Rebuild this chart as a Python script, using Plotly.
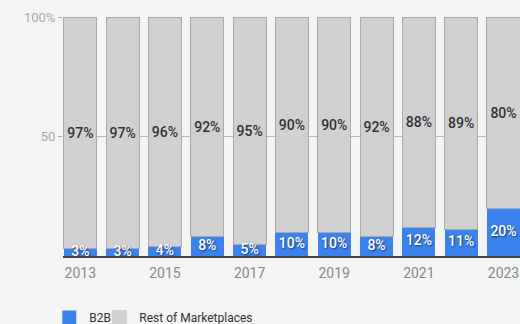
import plotly.graph_objects as go

years = [2013, 2014, 2015, 2016, 2017, 2018, 2019, 2020, 2021, 2022, 2023]
b2b = [3, 3, 4, 8, 5, 10, 10, 8, 12, 11, 20]
rest = [97, 97, 96, 92, 95, 90, 90, 92, 88, 89, 80]
x_ticks = [2013, 2015, 2017, 2019, 2021, 2023]
y_ticks = [50, 100]
y_ticktext = ["50", "100%"]

BG = "#f2f5f4"
FONT = "Roboto"
BLUE = "#3c82ee"
GREY = "#d0d0d0"

fig = go.Figure()
fig.add_trace(go.Bar(
    x=years, y=b2b, name="B2B", showlegend=False,
    marker=dict(color=BLUE, line=dict(width=0)),
    hoverinfo="skip",
))
fig.add_trace(go.Bar(
    x=years, y=rest, name="Rest of Marketplaces", showlegend=False,
    marker=dict(color=GREY, line=dict(width=1, color="#aaaaaa")),
    text=[f"{v}%" for v in rest], textposition="inside",
    insidetextanchor="middle", constraintext="none",
    textfont=dict(family=FONT, size=14, color="#333333", weight=500),
    hoverinfo="skip",
))
# B2B labels drawn on top of all bars, centred in the blue segment
fig.add_trace(go.Scatter(
    x=years, y=[v / 2 for v in b2b], mode="text",
    text=[f"{v}%" for v in b2b], textposition="middle center",
    textfont=dict(family=FONT, size=14, color="white",
                  shadow="1px 1px 2px rgba(0,0,0,0.6)", weight=500),
    showlegend=False, hoverinfo="skip",
))
# legend entries (square swatches)
fig.add_trace(go.Scatter(
    x=[None], y=[None], mode="markers", name="B2B", legend="legend",
    marker=dict(symbol="square", size=14, color=BLUE), hoverinfo="skip",
))
fig.add_trace(go.Scatter(
    x=[None], y=[None], mode="markers", name="Rest of Marketplaces", legend="legend2",
    marker=dict(symbol="square", size=14, color=GREY,
                line=dict(width=0.5, color="#bbbbbb")), hoverinfo="skip",
))

leg_common = dict(orientation="h", xanchor="left", y=-0.197, yanchor="top",
                  font=dict(size=12, color="#333333"),
                  bgcolor="rgba(0,0,0,0)")

fig.update_layout(
    width=520, height=324,
    barmode="stack", bargap=0.22,
    paper_bgcolor=BG, plot_bgcolor=BG,
    margin=dict(l=63, r=0, t=17, b=68, autoexpand=False),
    font=dict(family=FONT),
    showlegend=True,
    legend=dict(x=-0.03, **leg_common),
    legend2=dict(x=0.0795, **leg_common),
    xaxis=dict(range=[2012.59, 2023.39], tickvals=x_ticks,
               tickfont=dict(size=14, color="#888888"),
               showgrid=False, showline=True, linecolor="#444444", linewidth=2,
               ticks="", zeroline=False, ticklabelstandoff=3),
    yaxis=dict(range=[0, 100], tickvals=y_ticks, ticktext=y_ticktext,
               tickfont=dict(size=13, color="#aaaaaa"),
               showgrid=True, gridcolor="#b8b8b8", gridwidth=1,
               ticks="outside", ticklen=4, tickcolor="#aaaaaa",
               showline=False, zeroline=False),
)

fig.write_html("out.html")
